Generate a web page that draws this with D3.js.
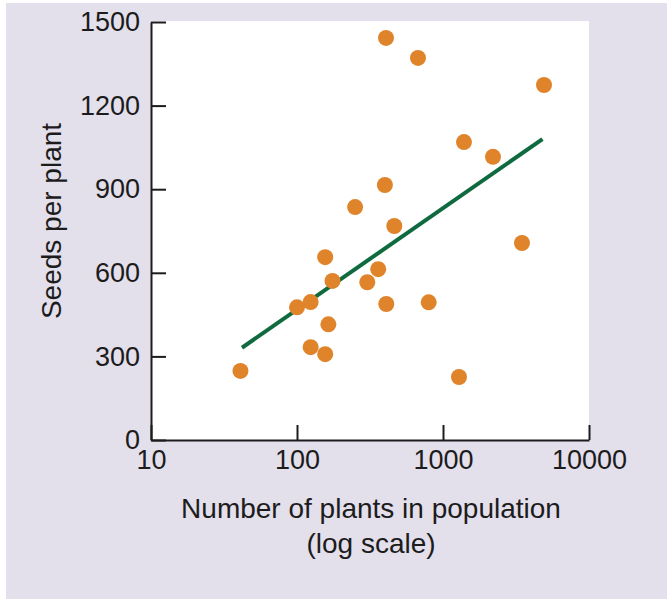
<!DOCTYPE html>
<html>
<head>
<meta charset="utf-8">
<script src="https://cdn.jsdelivr.net/npm/d3@7"></script>
<style>
  body { margin: 0; background: #ffffff; }
  svg { display: block; font-family: "Liberation Sans", Arial, Helvetica, sans-serif; }
</style>
</head>
<body>
<div id="chart"></div>
<script>
// population size (log scale) and seeds per plant
const plants = [41, 100, 124, 124, 156, 175, 164, 156, 250, 303, 360, 400, 409, 464, 407, 674, 798, 1287, 1392, 2200, 3475, 4918];
const seeds = [248, 476, 495, 333, 656, 571, 415, 308, 836, 566, 613, 915, 488, 768, 1443, 1371, 494, 226, 1069, 1016, 707, 1274];

// fitted trend line end points
const trendX = [42, 4800];
const trendY = [331, 1080];

const xTicks = [10, 100, 1000, 10000];
const yTicks = [0, 300, 600, 900, 1200, 1500];

const width = 667;
const height = 599;

const x = d3.scaleLog().domain([10, 10000]).range([151, 589]);
const y = d3.scaleLinear().domain([0, 1500]).range([440, 22]);

const svg = d3
  .select("#chart")
  .append("svg")
  .attr("width", width)
  .attr("height", height);

/* Panel */
svg
  .append("rect")
  .attr("x", 6)
  .attr("y", 3)
  .attr("width", width - 6)
  .attr("height", height - 3)
  .attr("fill", "#e3dfeb");

svg
  .append("rect")
  .attr("x", x(10))
  .attr("y", y(1500) - 1)
  .attr("width", x(10000) - x(10))
  .attr("height", y(0) - y(1500) + 1)
  .attr("fill", "#ffffff");

/* Axes */
svg
  .append("g")
  .attr("transform", `translate(${x(10)},0)`)
  .call(
    d3.axisLeft(y).tickValues(yTicks).tickSize(-15).tickSizeOuter(0).tickPadding(11).tickFormat(d3.format("d"))
  )
  .call((g) => {
    g.selectAll("path, line").attr("stroke", "#1c1c1c").attr("stroke-width", 2);
    g.selectAll("text").attr("fill", "#1c1c1c").attr("font-size", 27).attr("font-family", null);
  });

svg
  .append("g")
  .attr("transform", `translate(0,${y(0)})`)
  .call(
    d3.axisBottom(x).tickValues(xTicks).tickSize(-15).tickSizeOuter(0).tickPadding(10).tickFormat(d3.format("d"))
  )
  .call((g) => {
    g.selectAll("path, line").attr("stroke", "#1c1c1c").attr("stroke-width", 2);
    g.selectAll("text").attr("fill", "#1c1c1c").attr("font-size", 27).attr("font-family", null);
  });

/* Trend line */
svg
  .append("line")
  .attr("x1", x(trendX[0]))
  .attr("y1", y(trendY[0]))
  .attr("x2", x(trendX[1]))
  .attr("y2", y(trendY[1]))
  .attr("stroke", "#0f6b3f")
  .attr("stroke-width", 4);

/* Points */
svg
  .append("g")
  .selectAll("circle")
  .data(plants)
  .join("circle")
  .attr("cx", (d) => x(d))
  .attr("cy", (d, i) => y(seeds[i]))
  .attr("r", 8)
  .attr("fill", "#df842a");

/* Titles */
svg
  .append("text")
  .attr("transform", "translate(61,221) rotate(-90)")
  .attr("text-anchor", "middle")
  .attr("font-size", 28)
  .attr("fill", "#1c1c1c")
  .text("Seeds per plant");

svg
  .append("text")
  .attr("x", 371)
  .attr("y", 518)
  .attr("text-anchor", "middle")
  .attr("font-size", 28)
  .attr("fill", "#1c1c1c")
  .text("Number of plants in population");

svg
  .append("text")
  .attr("x", 371)
  .attr("y", 553)
  .attr("text-anchor", "middle")
  .attr("font-size", 28)
  .attr("fill", "#1c1c1c")
  .text("(log scale)");
</script>
</body>
</html>
